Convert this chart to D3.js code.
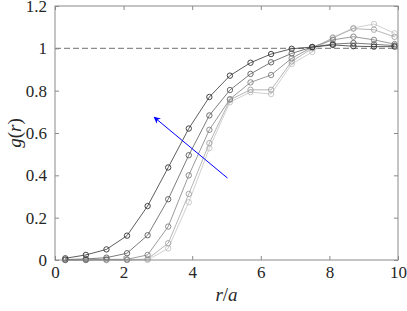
<!DOCTYPE html>
<html>
<head>
<meta charset="utf-8">
<script src="https://cdn.jsdelivr.net/npm/d3@7"></script>
<style>
  body { margin: 0; background: #fff; }
</style>
</head>
<body>
<svg width="407" height="311"></svg>
<script>
// r/a sample positions
const rVals = [0.3, 0.9, 1.5, 2.1, 2.7, 3.3, 3.9, 4.5, 5.1, 5.7, 6.3, 6.9, 7.5, 8.1, 8.7, 9.3, 9.9];

// g(r) curves, darkest first
const g1 = [0.008, 0.024, 0.05, 0.115, 0.255, 0.437, 0.621, 0.77, 0.871, 0.932, 0.973, 0.998, 1.006, 1.016, 1.01, 1.008, 1.008];
const g2 = [0.002, 0.005, 0.011, 0.032, 0.117, 0.287, 0.495, 0.683, 0.803, 0.879, 0.934, 0.976, 1.006, 1.02, 1.025, 1.019, 1.013];
const g3 = [0, 0, 0.003, 0.003, 0.024, 0.158, 0.4, 0.615, 0.76, 0.839, 0.874, 0.953, 1.006, 1.04, 1.055, 1.04, 1.02];
const g4 = [0, 0, 0, 0, 0.005, 0.079, 0.312, 0.552, 0.757, 0.804, 0.804, 0.938, 1.0, 1.049, 1.093, 1.088, 1.054];
const g5 = [0, 0, 0, 0, 0, 0.055, 0.273, 0.528, 0.746, 0.793, 0.784, 0.926, 0.983, 1.052, 1.096, 1.115, 1.071];

const seriesList = [g1, g2, g3, g4, g5];
const greys = ["#333333", "#5a5a5a", "#808080", "#a3a3a3", "#c4c4c4"];

const xTicks = [0, 2, 4, 6, 8, 10];
const yTicks = [0, 0.2, 0.4, 0.6, 0.8, 1, 1.2];

// arrow endpoints in data units
const arrowFrom = [5.03, 0.387];
const arrowTo = [2.89, 0.675];

const serif = "Liberation Serif";

let svg = d3.select("svg"),
    margin = {top: 6, right: 9, bottom: 51, left: 55},
    width = +svg.attr("width") - margin.left - margin.right,
    height = +svg.attr("height") - margin.top - margin.bottom;

let x = d3.scaleLinear().domain([0, 10]).range([0, width]),
    y = d3.scaleLinear().domain([0, 1.2]).range([height, 0]);

let g = svg.append("g")
    .attr("transform", "translate(" + margin.left + "," + margin.top + ")");

svg.append("defs").append("marker")
    .attr("id", "head")
    .attr("viewBox", "0 0 10 10")
    .attr("refX", 9).attr("refY", 5)
    .attr("markerWidth", 7).attr("markerHeight", 7)
    .attr("markerUnits", "userSpaceOnUse")
    .attr("orient", "auto")
  .append("path")
    .attr("d", "M0,0 L10,5 L0,10 L3,5 Z")
    .attr("fill", "#0000ff");

// reference line at g = 1
g.append("line")
    .attr("x1", x(0)).attr("x2", x(10))
    .attr("y1", y(1)).attr("y2", y(1))
    .attr("stroke", "#8c8c8c")
    .attr("stroke-width", 1.2)
    .attr("stroke-dasharray", "6,3");

let line = d3.line()
    .x(function(d, i) { return x(rVals[i]); })
    .y(function(d) { return y(d); });

// draw lightest first so dark ones sit on top
for (let k = seriesList.length - 1; k >= 0; k--) {
  let s = seriesList[k];
  g.append("path")
      .datum(s)
      .attr("d", line)
      .attr("fill", "none")
      .attr("stroke", greys[k])
      .attr("stroke-width", 0.8);
  g.selectAll(".pt" + k)
    .data(s)
    .enter().append("circle")
      .attr("class", "pt" + k)
      .attr("cx", function(d, i) { return x(rVals[i]); })
      .attr("cy", function(d) { return y(d); })
      .attr("r", 2.7)
      .attr("fill", "none")
      .attr("stroke", greys[k])
      .attr("stroke-width", 0.9);
}

g.append("line")
    .attr("x1", x(arrowFrom[0])).attr("y1", y(arrowFrom[1]))
    .attr("x2", x(arrowTo[0])).attr("y2", y(arrowTo[1]))
    .attr("stroke", "#0000ff")
    .attr("stroke-width", 1)
    .attr("marker-end", "url(#head)");

// axes, MATLAB style box with inward ticks
const axisColor = "#8a8a8a";
let styleAxis = function(sel, showText) {
  sel.attr("font-family", null).attr("font-size", null);
  sel.select(".domain").remove();
  sel.selectAll(".tick line").attr("stroke", axisColor).attr("stroke-width", 1);
  sel.selectAll(".tick text")
      .attr("fill", "#262626")
      .attr("font-family", serif)
      .attr("font-size", 17)
      .style("display", showText ? null : "none");
};

g.append("g")
    .attr("transform", "translate(0," + height + ")")
    .call(d3.axisBottom(x).tickValues(xTicks).tickSizeInner(-4).tickPadding(6).tickFormat(d3.format("d")))
    .call(function(s) { styleAxis(s, true); });

g.append("g")
    .call(d3.axisTop(x).tickValues(xTicks).tickSizeInner(-4))
    .call(function(s) { styleAxis(s, false); });

g.append("g")
    .call(d3.axisLeft(y).tickValues(yTicks).tickSizeInner(-4).tickPadding(8).tickFormat(function(d) { return d3.format("")(+d.toFixed(1)); }))
    .call(function(s) { styleAxis(s, true); });

g.append("g")
    .attr("transform", "translate(" + width + ",0)")
    .call(d3.axisRight(y).tickValues(yTicks).tickSizeInner(-4))
    .call(function(s) { styleAxis(s, false); });

g.append("rect")
    .attr("width", width).attr("height", height)
    .attr("fill", "none")
    .attr("stroke", axisColor)
    .attr("stroke-width", 1);

// axis labels
let xl = svg.append("text")
    .attr("x", margin.left + width / 2)
    .attr("y", 301)
    .attr("text-anchor", "middle")
    .attr("fill", "#262626")
    .attr("font-family", serif)
    .attr("font-size", 19);
xl.append("tspan").attr("font-style", "italic").text("r");
xl.append("tspan").text("/");
xl.append("tspan").attr("font-style", "italic").text("a");

let yl = svg.append("text")
    .attr("transform", "translate(21," + (margin.top + height / 2) + ") rotate(-90)")
    .attr("text-anchor", "middle")
    .attr("fill", "#262626")
    .attr("font-family", serif)
    .attr("font-size", 19);
yl.append("tspan").attr("font-style", "italic").text("g");
yl.append("tspan").text("(");
yl.append("tspan").attr("font-style", "italic").text("r");
yl.append("tspan").text(")");
</script>
</body>
</html>
